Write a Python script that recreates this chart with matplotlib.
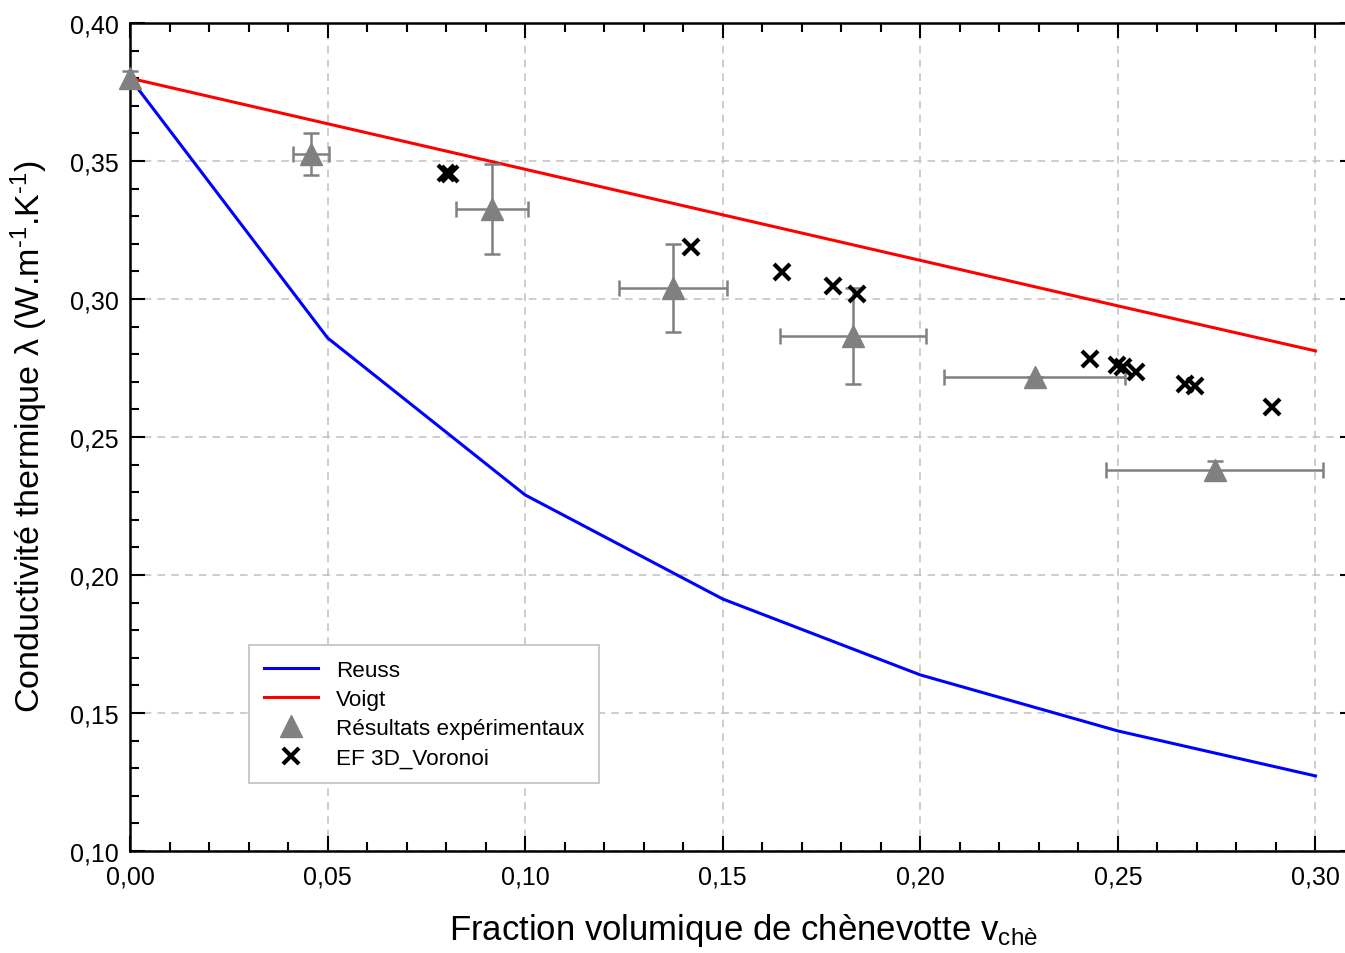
import matplotlib
matplotlib.use("Agg")
import matplotlib.pyplot as plt
from matplotlib.ticker import MultipleLocator, FuncFormatter

plt.rcParams['font.family'] = ['Liberation Sans', 'DejaVu Sans']
plt.rcParams['mathtext.fontset'] = 'custom'
plt.rcParams['mathtext.rm'] = 'Liberation Sans'
plt.rcParams['mathtext.it'] = 'Liberation Sans:italic'

# Model curves
model_x = [0.00, 0.05, 0.10, 0.15, 0.20, 0.25, 0.30]
reuss_y = [0.380, 0.2859, 0.2290, 0.1913, 0.1638, 0.1435, 0.1272]
voigt_y = [0.380, 0.3635, 0.3470, 0.3305, 0.3140, 0.2975, 0.2812]

# Experimental results
exp_x = [0.0, 0.0458, 0.0916, 0.1374, 0.1829, 0.2289, 0.2745]
exp_y = [0.380, 0.3525, 0.3326, 0.3040, 0.2866, 0.2717, 0.2380]
exp_xerr = [0.0, 0.0046, 0.0091, 0.0137, 0.0185, 0.0229, 0.0274]
exp_yerr = [0.0025, 0.0076, 0.0163, 0.0161, 0.0174, 0.0, 0.0033]

# FE 3D Voronoi
ef_x = [0.0799, 0.0810, 0.1419, 0.1649, 0.1778, 0.1839, 0.2429,
        0.2497, 0.2512, 0.2547, 0.2669, 0.2694, 0.2891]
ef_y = [0.3457, 0.3453, 0.3188, 0.3098, 0.3047, 0.3018, 0.2783,
        0.2761, 0.2754, 0.2736, 0.2692, 0.2685, 0.2609]

fig = plt.figure(figsize=(13.45, 9.54), dpi=100)
ax = fig.add_axes([130/1345, 102/954, 1225/1345, 828/954])

ax.plot(model_x, reuss_y, color='#0000ff', lw=2.2, label='Reuss', zorder=3)
ax.plot(model_x, voigt_y, color='#ff0000', lw=2.2, label='Voigt', zorder=3)
eb = ax.errorbar(exp_x, exp_y, xerr=exp_xerr, yerr=exp_yerr, fmt='none',
                 ecolor='#808080', elinewidth=1.8, capsize=6, capthick=1.8, zorder=4)
for art in eb.get_children():
    art.set_clip_on(False)
ax.plot(exp_x, exp_y, '^', color='#808080', ms=16, mec='#808080',
        label='Résultats expérimentaux', zorder=5, clip_on=False)
ax.plot(ef_x, ef_y, 'x', color='black', ms=11.5, mew=3.0,
        label='EF 3D_Voronoi', zorder=6)

ax.set_xlim(0, 0.31)
ax.set_ylim(0.10, 0.40)
ax.xaxis.set_major_locator(MultipleLocator(0.05))
ax.xaxis.set_minor_locator(MultipleLocator(0.01))
ax.yaxis.set_major_locator(MultipleLocator(0.05))
ax.yaxis.set_minor_locator(MultipleLocator(0.01))
fmt = FuncFormatter(lambda v, p: f'{v:.2f}'.replace('.', ','))
ax.xaxis.set_major_formatter(fmt)
ax.yaxis.set_major_formatter(fmt)

ax.tick_params(which='both', direction='in', top=True, right=True,
               labelsize=18, width=1.5, color='black')
ax.tick_params(which='major', length=11)
ax.tick_params(which='minor', length=6.5)
ax.tick_params(axis='x', which='major', pad=10)
ax.tick_params(axis='y', which='major', pad=8)
for s in ax.spines.values():
    s.set_linewidth(1.8)

ax.grid(True, which='major', color='#c0c0c0', ls=(0, (5, 4)), lw=1.1, zorder=0)
ax.set_axisbelow(True)

ax.set_xlabel('Fraction volumique de chènevotte v$_{\\mathrm{chè}}$', fontsize=25)
ax.set_ylabel('Conductivité thermique λ (W.m$^{\\text{-1}}$.K$^{\\text{-1}}$)', fontsize=24.5)
ax.xaxis.set_label_coords((743 - 130) / 1225, -(912 - 852) / 828)
ax.yaxis.set_label_coords(-(130 - 50) / 1225, 0.5 - (437 - 438) / 828)

leg = ax.legend(loc='lower left', bbox_to_anchor=((249 - 130) / 1225, (852 - 784) / 828),
                borderaxespad=0, fontsize=16.2, frameon=True, fancybox=False,
                edgecolor='#c0c0c0', framealpha=1, handlelength=2.4,
                labelspacing=0.36, borderpad=0.65, handletextpad=0.8)
leg.get_frame().set_linewidth(1.2)

fig.savefig('out.png', dpi=100)
